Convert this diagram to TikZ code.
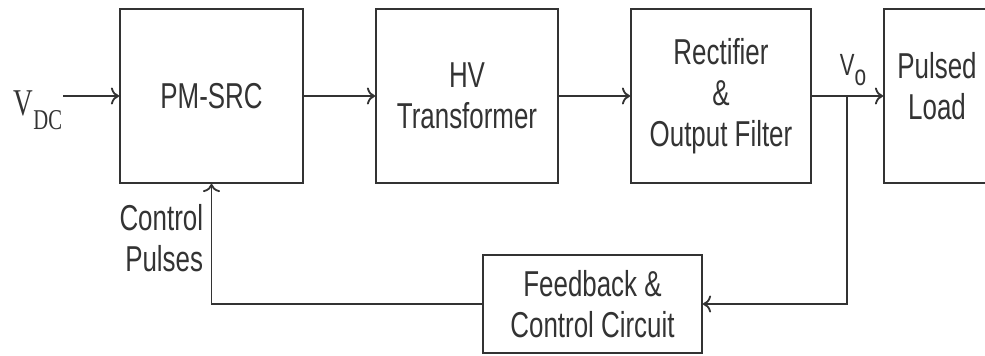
\documentclass[tikz,border=0pt]{standalone}
\usepackage{fontspec}
\setmainfont[FakeStretch=0.72]{Liberation Sans}
\newfontfamily\vfont[FakeStretch=0.72]{Liberation Serif}
\usetikzlibrary{arrows.meta,positioning}
\tikzset{
    block/.style ={rectangle, draw, minimum height=4.35cm, align=center, inner sep=0pt},
    lbl/.style = {inner sep=0pt, align=right}
}

\begin{document}
\begin{tikzpicture}[-{To[scale=1.3]}, x=0.025cm, y=-0.025cm, line width=1.3pt,
    color=black!80, font=\fontsize{25.6}{29.2}\selectfont]
    \useasboundingbox (0,0) rectangle (985,355);
    \node (p) at (211.5,96) [block, minimum width=4.575cm] {PM-SRC};
    \node (h) at (467,96) [block, minimum width=4.55cm] {HV\\Transformer};
		\node (r) at (721,96) [block, minimum width=4.5cm] {Rectifier\\\&\\Output Filter};
		\node (l) at (937,96) [block, minimum width=2.65cm,
		  label={[align=center, inner sep=0pt, yshift=0.25cm]center:Pulsed\\Load}] {};
		\node (f) at (592.5,304) [block, minimum width=5.475cm, minimum height=2.45cm] {Feedback \&\\Control Circuit};
		\node (v) at (63,110) [lbl, anchor=east] {\vfont\fontsize{26.9}{29}\selectfont V\raisebox{-10pt}{\fontsize{20.4}{21}\selectfont DC}};
		\node (o) at (853,70) [lbl] {\fontsize{21.8}{24}\selectfont V\raisebox{-7pt}{\fontsize{20.6}{21}\selectfont o}};
		\node (c) at (204,238) [lbl, anchor=east] {Control\\Pulses};
		\coordinate (j) at (847,96);

    \path (v.east |- p.west) edge (p.west);
		\path (p) edge (h);
		\path (h) edge (r);
		\path (r) edge (l);
		\draw (j) |- (f);
		\draw (f) -| (p);
\end{tikzpicture}
\end{document}
